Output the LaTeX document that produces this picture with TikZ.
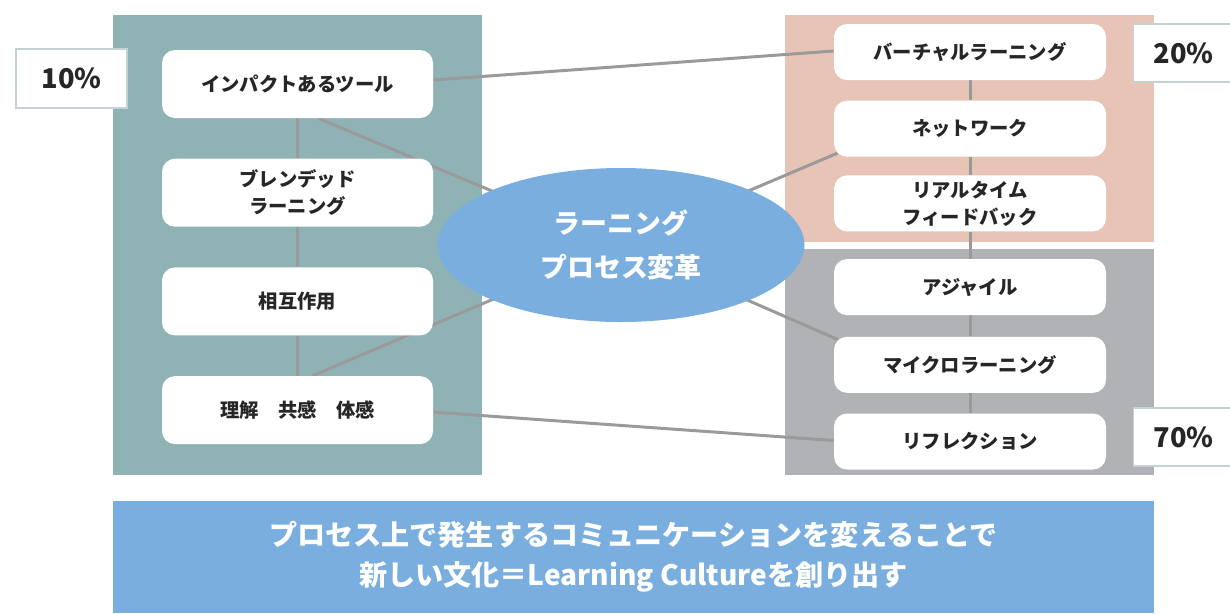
\documentclass[tikz,border=0pt]{standalone}
\usepackage{fontspec}
\setmainfont{Noto Sans CJK JP}
\usepackage{xcolor}
\usepackage{tikz}
\usetikzlibrary{shapes.geometric, positioning, calc}

\definecolor{panelteal}{HTML}{8FB3B4}
\definecolor{panelpink}{HTML}{E8C4B6}
\definecolor{panelgray}{HTML}{B1B2B5}
\definecolor{hubblue}{HTML}{7AAEDE}
\definecolor{linkgray}{HTML}{9A9A9A}
\definecolor{inkdark}{HTML}{262626}
\definecolor{pctedge}{HTML}{C3D3D4}

\pgfdeclarelayer{panels}
\pgfdeclarelayer{links}
\pgfsetlayers{panels,links,main}

\begin{document}
\begin{tikzpicture}[
            node distance=0.8cm and 1.5cm,
            panel/.style={rectangle, inner sep=0pt, minimum width=7.38cm},
            item/.style={rectangle, rounded corners=0.26cm, fill=white, text width=5.2cm, align=center, minimum width=5.42cm, minimum height=1.36cm, inner sep=0pt, font=\fontsize{11}{15.3}\selectfont\bfseries, text=inkdark},
            ritem/.style={item, minimum width=5.44cm, minimum height=1.12cm},
            pct/.style={rectangle, draw=pctedge, line width=0.6pt, fill=white, inner sep=0pt, font=\fontsize{15.5}{18}\selectfont\bfseries, text=inkdark},
            hub/.style={ellipse, fill=hubblue, minimum width=7.34cm, minimum height=3.08cm, align=center, text=white, font=\fontsize{15.3}{24.5}\selectfont\bfseries},
            link/.style={draw=linkgray, line width=1.7pt}
        ]
            \useasboundingbox (0,0) rectangle (24.6,-12.26);

            % Panels
            \begin{pgfonlayer}{panels}
            \node[panel, fill=panelteal, minimum height=9.2cm] (lpanel) at (5.95,-4.9) {};
            \node[panel, fill=panelpink, minimum height=4.54cm] (tpanel) at (19.39,-2.57) {};
            \node[panel, fill=panelgray, minimum height=4.52cm] (bpanel) at (19.39,-7.24) {};
            \end{pgfonlayer}

            % Left column
            \node[item] (tool) at (5.95,-1.68) {インパクトあるツール};
            \node[item, below=of tool] (blend) {ブレンデッド\\ラーニング};
            \node[item, below=of blend] (inter) {相互作用};
            \node[item, below=of inter] (feel) {理解\quad 共感\quad 体感};

            % Right column
            \node[ritem] (virt) at (19.4,-1.04) {バーチャルラーニング};
            \node[ritem, below=0.4cm of virt] (net) {ネットワーク};
            \node[ritem, below=0.36cm of net] (rtfb) {リアルタイム\\フィードバック};
            \node[ritem, below=0.54cm of rtfb] (agile) {アジャイル};
            \node[ritem, below=0.42cm of agile] (micro) {マイクロラーニング};
            \node[ritem, below=0.4cm of micro] (refl) {リフレクション};

            % Percent tags
            \node[pct, minimum width=2.22cm, minimum height=1.18cm] (p10) at (1.43,-1.57) {10\%};
            \node[pct, minimum width=2.0cm, minimum height=1.16cm, anchor=west] (p20) at (22.66,-1.06) {20\%};
            \node[pct, minimum width=2.0cm, minimum height=1.16cm, anchor=west] (p70) at (22.66,-8.74) {70\%};

            % Hub
            \node[hub] (hub) at (12.42,-4.9) {ラーニング\\プロセス変革};

            % Links
            \begin{pgfonlayer}{links}
            \draw[link] (tool) -- (blend) -- (inter) -- (feel);
            \draw[link] (virt) -- (net) -- (rtfb) -- (agile) -- (micro) -- (refl);
            \draw[link] ([yshift=0.08cm]tool.east) -- ([yshift=0.02cm]virt.west);
            \draw[link] ([yshift=-0.04cm]feel.east) -- ([yshift=0.02cm]refl.west);
            \draw[link] (hub.center) -- ([xshift=0.42cm]tool.south);
            \draw[link] (hub.center) -- ([xshift=0.3cm]feel.north);
            \draw[link] (hub.center) -- ([shift={(0.08cm,0.08cm)}]net.south west);
            \draw[link] (hub.center) -- ([shift={(0.08cm,-0.06cm)}]micro.north west);
            \end{pgfonlayer}

            % Banner
            \node[rectangle, fill=hubblue, minimum width=20.82cm, minimum height=2.24cm, inner sep=0pt, align=center, text=white, font=\fontsize{16}{22.8}\selectfont\bfseries] (banner) at (12.67,-11.14) {プロセス上で発生するコミュニケーションを変えることで\\新しい文化＝Learning Cultureを創り出す};

        \end{tikzpicture}
\end{document}
